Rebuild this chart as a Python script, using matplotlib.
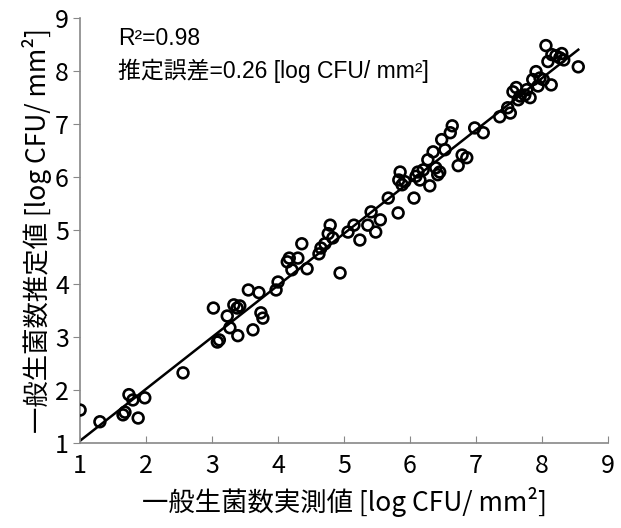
# scatter of measured vs estimated counts with fitted line
import numpy as np
import matplotlib
matplotlib.use("Agg")
import matplotlib.pyplot as plt

plt.rcParams["font.family"] = ["Noto Sans CJK JP", "DejaVu Sans"]

# ---------- data ----------
measured = [
    1.00, 1.30, 1.65, 1.68, 1.74, 1.80, 1.88, 1.98, 2.56,
    3.02, 3.08, 3.11, 3.23, 3.27, 3.33, 3.38, 3.42, 3.39, 3.55, 3.62,
    3.71, 3.74, 3.77, 3.97, 4.00, 4.14, 4.17, 4.21, 4.30, 4.36, 4.44,
    4.62, 4.65, 4.71, 4.76, 4.79, 4.83, 4.94, 5.06, 5.15, 5.24, 5.36,
    5.41, 5.48, 5.55, 5.67, 5.82, 5.83, 5.85, 5.88, 5.92, 6.06, 6.09,
    6.12, 6.15, 6.20, 6.27, 6.30, 6.35, 6.39, 6.42, 6.45, 6.48, 6.53,
    6.61, 6.64, 6.73, 6.79, 6.86, 6.98, 7.11, 7.36, 7.48, 7.52, 7.56,
    7.61, 7.64, 7.67, 7.74, 7.77, 7.82, 7.86, 7.91, 7.94, 7.97, 8.02,
    8.06, 8.09, 8.14, 8.15, 8.21, 8.27, 8.30, 8.33, 8.55,
]
estimated = [
    1.62, 1.40, 1.53, 1.58, 1.91, 1.81, 1.47, 1.85, 2.32,
    3.54, 2.90, 2.94, 3.39, 3.17, 3.60, 3.54, 3.58, 3.02, 3.88, 3.13,
    3.83, 3.45, 3.35, 3.88, 4.03, 4.41, 4.48, 4.26, 4.48, 4.75, 4.28,
    4.56, 4.67, 4.75, 4.94, 5.10, 4.86, 4.20, 4.97, 5.10, 4.82, 5.10,
    5.35, 4.97, 5.20, 5.61, 5.33, 5.95, 6.10, 5.86, 5.92, 5.61, 6.02,
    6.10, 5.95, 6.14, 6.33, 5.84, 6.48, 6.18, 6.05, 6.10, 6.71, 6.52,
    6.84, 6.97, 6.22, 6.42, 6.37, 6.93, 6.84, 7.14, 7.31, 7.21, 7.61,
    7.69, 7.46, 7.53, 7.55, 7.65, 7.50, 7.84, 7.99, 7.72, 7.87, 7.84,
    8.48, 8.18, 7.74, 8.31, 8.29, 8.25, 8.33, 8.21, 8.08,
]
ticks = [1, 2, 3, 4, 5, 6, 7, 8, 9]
line_x = [1.0, 8.55]

r2_text = "R²=0.98"
err_text = "推定誤差=0.26 [log CFU/ mm²]"
xlabel = "一般生菌数実測値 [log CFU/ mm²]"
ylabel = "一般生菌数推定値 [log CFU/ mm²]"

# ---------- plot ----------
fig = plt.figure(figsize=(6.21, 5.28), dpi=100)
ax = fig.add_axes([0.129, 0.161, 0.850, 0.805])

ax.scatter(measured, estimated, s=60, facecolors="none", edgecolors="black",
           linewidths=1.9, zorder=3)

slope, icpt = np.polyfit(measured, estimated, 1)
lx = np.array(line_x)
ax.plot(lx, slope * lx + icpt, color="black", lw=1.8, zorder=2)

ax.set_xlim(1, 9)
ax.set_ylim(1, 9)
ax.set_xticks(ticks)
ax.set_yticks(ticks)
ax.tick_params(axis="x", direction="in", length=5, color="#888888",
               labelsize=18, pad=7)
ax.tick_params(axis="y", direction="out", length=5, color="#888888",
               labelsize=18, pad=3)

for side in ("top", "right"):
    ax.spines[side].set_visible(False)
for side in ("left", "bottom"):
    ax.spines[side].set_color("#888888")
    ax.spines[side].set_linewidth(1.2)

ax.set_xlabel(xlabel, fontsize=19, labelpad=6)
ax.set_ylabel(ylabel, fontsize=19, labelpad=2)

ann_font = ["Liberation Sans", "Noto Sans CJK JP"]
ax.text(0.072, 0.978, r2_text, transform=ax.transAxes, fontsize=16.5,
        va="top", ha="left", family=ann_font)
ax.text(0.072, 0.905, err_text, transform=ax.transAxes, fontsize=16.5,
        va="top", ha="left", family=ann_font)

fig.savefig("out.png", dpi=100)
